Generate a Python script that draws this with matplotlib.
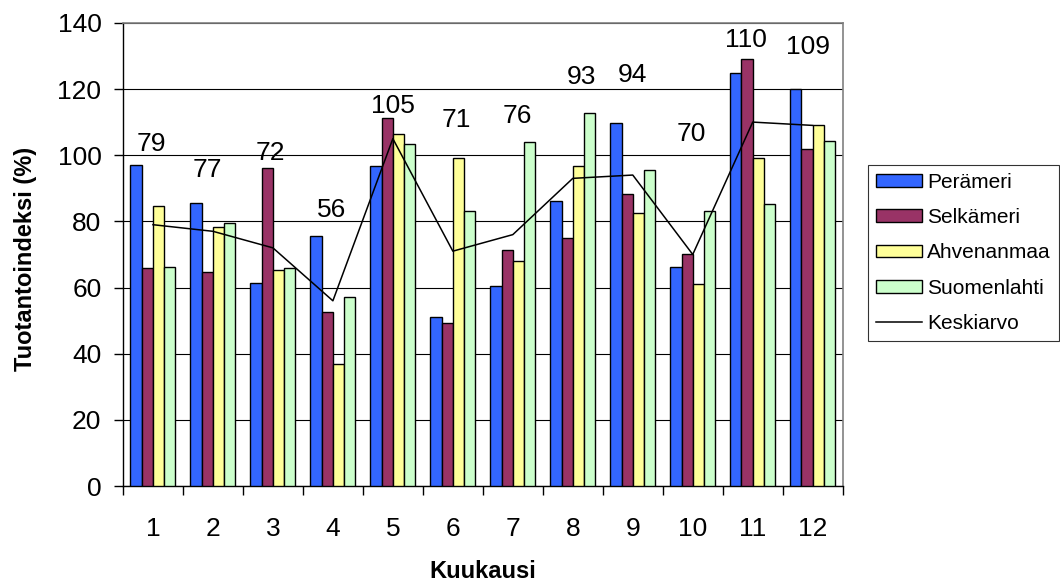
import matplotlib.pyplot as plt
import numpy as np
from matplotlib.lines import Line2D
from matplotlib.patches import Patch

plt.rcParams.update({
    "font.family": ["Liberation Sans", "DejaVu Sans"],
    "font.size": 19,
})

MONTHS = list(range(1, 13))
PERAMERI = [97.1, 85.6, 61.5, 75.6, 96.7, 51.2, 60.5, 86.1, 109.7, 66.3, 124.9, 120.0]
SELKAMERI = [65.8, 64.7, 96.1, 52.7, 111.3, 49.4, 71.5, 75.1, 88.3, 70.0, 129.0, 101.8]
AHVENANMAA = [84.6, 78.2, 65.2, 36.9, 106.4, 99.3, 67.9, 96.6, 82.5, 61.0, 99.3, 109.2]
SUOMENLAHTI = [66.3, 79.4, 65.8, 57.0, 103.4, 83.0, 103.9, 112.7, 95.6, 83.1, 85.2, 104.4]
KESKIARVO = [79, 77, 72, 56, 105, 71, 76, 93, 94, 70, 110, 109]

SERIES = [
    ("Perämeri", PERAMERI, "#3366FF"),
    ("Selkämeri", SELKAMERI, "#993366"),
    ("Ahvenanmaa", AHVENANMAA, "#FFFF99"),
    ("Suomenlahti", SUOMENLAHTI, "#CCFFCC"),
]

# where the mean labels sit (data units), placed by hand above each group
LABEL_Y = [103.5, 95.5, 100.7, 83.4, 114.8, 110.6, 111.8, 123.6, 124.2, 106.5, 134.9, 132.7]
LABEL_DX = [-0.02, -0.1, -0.05, -0.02, 0.0, 0.06, 0.08, 0.15, 0.0, -0.02, -0.12, -0.08]

fig = plt.figure(figsize=(10.6, 5.85), dpi=100)
ax = fig.add_axes([0.116, 0.169, 0.679, 0.792])

x = np.arange(len(MONTHS))
width = 0.1875
for i, (name, vals, color) in enumerate(SERIES):
    ax.bar(x + (i - 1.5) * width, vals, width=width, color=color,
           edgecolor="black", linewidth=1.0, zorder=3)

ax.plot(x, KESKIARVO, color="black", linewidth=1.1, zorder=4)

for xi, val, ly, dx in zip(x, KESKIARVO, LABEL_Y, LABEL_DX):
    ax.text(xi + dx, ly, f"{val}", ha="center", va="center", fontsize=19, zorder=5)

ax.set_xlim(-0.5, 11.5)
ax.set_ylim(0, 140)
ax.set_yticks(range(0, 141, 20))
ax.set_xticks(x)
ax.set_xticklabels([str(m) for m in MONTHS])
ax.set_xticks(np.arange(-0.5, 12, 1), minor=True)
ax.tick_params(axis="x", which="major", length=0, pad=22, labelsize=19)
ax.tick_params(axis="x", which="minor", length=6.5, width=1, direction="out")
ax.tick_params(axis="y", length=6.5, width=1, direction="out", pad=9, labelsize=19)

ax.grid(axis="y", color="black", linewidth=0.8, zorder=0)
ax.set_axisbelow(True)
for side in ("top", "right"):
    ax.spines[side].set_color("#808080")
    ax.spines[side].set_linewidth(1.2)
for side in ("left", "bottom"):
    ax.spines[side].set_color("black")
    ax.spines[side].set_linewidth(1.0)

ax.set_ylabel("Tuotantoindeksi (%)", fontsize=17, fontweight="bold")
ax.yaxis.set_label_coords(-0.119, 0.49)
ax.set_xlabel("Kuukausi", fontsize=17, fontweight="bold", labelpad=14)

handles = [Patch(facecolor=c, edgecolor="black", linewidth=1.0, label=n) for n, _, c in SERIES]
handles.append(Line2D([0], [0], color="black", linewidth=1.1, label="Keskiarvo"))
leg = fig.legend(handles=handles, loc="upper left", bbox_to_anchor=(0.819, 0.718),
                 fontsize=15, frameon=True, fancybox=False, edgecolor="black",
                 handlelength=2.2, handleheight=0.55, handletextpad=0.25,
                 borderpad=0.38, labelspacing=0.78, borderaxespad=0)
leg.get_frame().set_linewidth(0.8)

fig.savefig("out.png", dpi=100, facecolor="white")
